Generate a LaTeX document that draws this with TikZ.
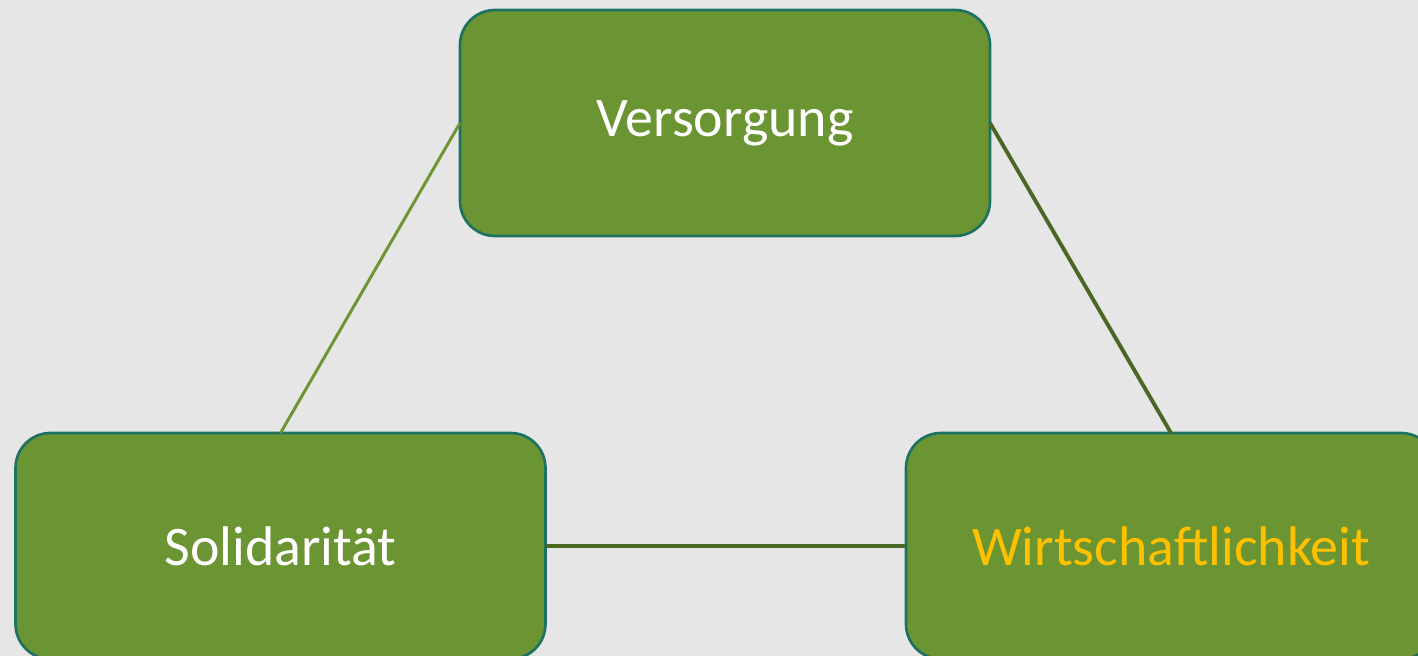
\documentclass[tikz,border=0pt]{standalone}
\usepackage{fontspec}
\setmainfont{Carlito}
\definecolor{boxgreen}{HTML}{6B9432}
\definecolor{boxedge}{HTML}{1B7162}
\definecolor{lightline}{HTML}{6E9535}
\definecolor{darkline}{HTML}{4A6823}
\definecolor{bgray}{HTML}{E7E6E6}
\definecolor{gold}{HTML}{FFC000}
\begin{document}
\begin{tikzpicture}[every node/.style={fill=boxgreen, draw=boxedge, line width=0.75pt, rounded corners=0.35cm, minimum width=5.3cm, minimum height=2.26cm, text=white, font=\fontsize{15.9}{19}\selectfont, outer sep=0pt}]
\useasboundingbox[fill=bgray] (0,0) rectangle (14.18,6.56);
\clip (0,0) rectangle (14.18,6.56);
\node (versorgung) at (7.25,5.33) {\raisebox{-0.05cm}{Versorgung}};
\node (solidaritaet) at (2.805,1.10) {Solidarität};
\node[text=gold] (wirtschaft) at (11.71,1.10) {Wirtschaftlichkeit};

\draw[color=lightline, line width=0.85pt] (versorgung.west) -- (solidaritaet.north);
\draw[color=darkline, line width=1.1pt] (versorgung.east) -- (wirtschaft.north);
\draw[color=darkline, line width=1.1pt] (solidaritaet.east) -- (wirtschaft.west);
\end{tikzpicture}
\end{document}
